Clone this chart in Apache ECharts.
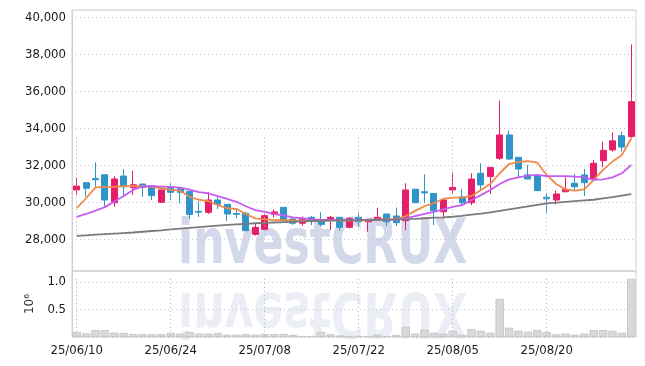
<!DOCTYPE html>
<html><head><meta charset="utf-8">
<script src="https://cdn.jsdelivr.net/npm/echarts@6/dist/echarts.min.js"></script>
<style>html,body{margin:0;padding:0;background:#fff}#c{width:645px;height:366px}</style>
</head><body><div id="c"></div>
<script>
const dates = ['25/06/10','25/06/11','25/06/12','25/06/13','25/06/16','25/06/17','25/06/18','25/06/19','25/06/20','25/06/23',
'25/06/24','25/06/25','25/06/26','25/06/27','25/06/30','25/07/01','25/07/02','25/07/03','25/07/04','25/07/07',
'25/07/08','25/07/09','25/07/10','25/07/11','25/07/14','25/07/15','25/07/16','25/07/17','25/07/18','25/07/21',
'25/07/22','25/07/23','25/07/24','25/07/25','25/07/28','25/07/29','25/07/30','25/07/31','25/08/01','25/08/04',
'25/08/05','25/08/06','25/08/07','25/08/08','25/08/11','25/08/12','25/08/13','25/08/14','25/08/18','25/08/19',
'25/08/20','25/08/21','25/08/22','25/08/25','25/08/26','25/08/27','25/08/28','25/08/29','25/09/01','25/09/02'];
const opens  = [30680,31070,31300,31500,29990,31430,30800,31000,30910,30010,30800,30770,30600,29520,29470,30135,29900,29400,29420,28280,
28550,29360,29740,29110,28880,29200,29050,29050,29200,28660,29200,28960,29050,29380,29270,29020,30720,30580,30490,29500,
30680,30300,29990,31580,31400,32390,33650,32440,31490,31450,30280,30135,30580,31040,31490,31250,32260,32840,33610,33560];
const closes = [30890,30770,31230,30135,31270,30850,30960,30820,30370,30680,30550,30550,29350,29480,30135,29900,29380,29360,28480,28660,
29290,29490,29050,28880,29110,29050,28820,29200,28660,29140,28960,29090,29200,28960,28910,30680,29990,30520,29560,30135,
30820,29990,31270,30950,31900,33650,32350,31810,31270,30640,30200,30460,30710,30850,31070,32120,32820,33330,33000,35450];
const lows   = [30400,30310,30850,29770,29770,30310,30400,30310,30135,30010,30135,29960,29100,29220,29380,29650,29000,29150,28480,28210,
28480,29200,29050,28780,28750,28780,28730,28510,28480,28600,28690,28420,29050,28730,28730,28510,29990,29990,28780,29140,
30490,29860,29860,30680,30460,32300,32300,31360,31270,30640,29450,29900,30580,30680,30350,31220,31900,32750,32750,33500];
const highs  = [31360,31100,32170,31520,31430,31800,31720,31000,30910,30680,31040,30770,30640,30060,30580,30310,29900,29650,29500,28910,
29380,29630,29740,29200,29250,29270,29470,29270,29200,29200,29470,29090,29720,29380,29720,31040,30720,31520,30490,30135,
31620,30720,31580,32120,31900,35500,33880,32440,32030,31450,30490,30640,31360,31540,31810,32300,33290,33790,33830,38540];
const maShort = [29690,30230,30820,30850,30850,30890,30890,30890,30850,30770,30680,30640,30310,30150,30080,29860,29690,29650,29380,29140,
29090,29050,29050,29030,29020,29020,29000,29050,29020,29030,29040,29040,29090,29090,29100,29270,29550,29800,29960,30200,
30260,30280,30350,30680,31000,31580,32080,32190,32240,32150,31490,31000,30710,30640,30710,31220,31760,32210,32570,33470];
const maMid = [29230,29380,29560,29750,30050,30350,30680,30870,30880,30860,30840,30800,30700,30560,30500,30350,30200,30040,29800,29590,
29500,29380,29300,29200,29150,29090,29070,29060,29050,29050,29050,29050,29050,29060,29080,29140,29270,29380,29500,29630,
29770,29860,30135,30400,30680,31000,31250,31360,31450,31490,31430,31430,31430,31400,31360,31220,31250,31360,31580,32030];
const maLong = [28200,28230,28260,28290,28320,28350,28380,28420,28460,28500,28550,28590,28630,28670,28710,28750,28790,28820,28850,28880,
28900,28920,28940,28960,28980,29000,29010,29020,29030,29040,29050,29060,29070,29080,29090,29100,29120,29150,29180,29200,
29230,29280,29340,29400,29470,29550,29630,29710,29790,29870,29950,29990,30030,30070,30110,30150,30220,30290,30370,30450];
const volumes = [0.092,0.067,0.128,0.128,0.080,0.075,0.056,0.050,0.050,0.050,0.075,0.063,0.092,0.063,0.063,0.075,0.043,0.043,0.056,0.043,
0.056,0.056,0.056,0.038,0.020,0.020,0.092,0.050,0.030,0.020,0.020,0.020,0.043,0.020,0.038,0.188,0.063,0.133,0.080,0.063,
0.115,0.043,0.146,0.115,0.080,0.693,0.170,0.115,0.097,0.128,0.092,0.050,0.063,0.043,0.063,0.128,0.128,0.115,0.080,1.060];
const gridIdx = dates.map((d, i) => i).filter(i => i % 10 === 0);

const candles = dates.map((d, i) => [opens[i], closes[i], lows[i], highs[i]]);
const FONT = '"DejaVu Sans Condensed", "DejaVu Sans", sans-serif';
const dotStyle = {type: [1, 3], color: '#c3c6d6', width: 1};
const vDot = {type: [1, 3], color: '#aeb2c8', width: 1};
const vLines = {silent: true, symbol: ['none', 'none'], animation: false, label: {show: false},
  lineStyle: vDot, emphasis: {disabled: true},
  data: gridIdx.map(i => [{xAxis: i, yAxis: 'min'}, {xAxis: i, yAxis: 'max'}])};

const chart = echarts.init(document.getElementById('c'), null, {renderer: 'canvas'});
chart.setOption({
  animation: false,
  backgroundColor: '#fff',
  graphic: [
    {type: 'text', x: 178, y: 278, scaleX: 0.78, z: 0, silent: true,
     style: {text: 'investCRUX', font: 'bold 63px ' + FONT, fill: 'rgba(168,178,214,0.5)', textVerticalAlign: 'bottom'}},
    {type: 'text', x: 178, y: 278, scaleX: 0.78, scaleY: -1, z: 0, silent: true,
     style: {text: 'investCRUX', font: 'bold 63px ' + FONT, fill: 'rgba(168,178,214,0.22)', textVerticalAlign: 'bottom'}}
  ],
  grid: [
    {left: 72, right: 9, top: 10, height: 261, show: true, borderColor: '#cfcfcf', borderWidth: 1},
    {left: 72, right: 9, top: 271, height: 66, show: true, borderColor: '#cfcfcf', borderWidth: 1}
  ],
  xAxis: [
    {type: 'category', gridIndex: 0, data: dates, boundaryGap: true,
     axisLine: {show: false}, axisTick: {show: false}, axisLabel: {show: false}, splitLine: {show: false}},
    {type: 'category', gridIndex: 1, data: dates, boundaryGap: true,
     axisLine: {show: false}, axisTick: {show: false},
     axisLabel: {interval: 9, color: '#1a1a1a', fontFamily: FONT, fontSize: 13, margin: 7},
     splitLine: {show: false}}
  ],
  yAxis: [
    {type: 'value', gridIndex: 0, min: 26300, max: 40400, splitNumber: 7, scale: true,
     axisLine: {show: true, lineStyle: {color: '#cfcfcf'}}, axisTick: {show: false},
     axisLabel: {color: '#1a1a1a', fontFamily: FONT, fontSize: 13, margin: 6, showMinLabel: false, showMaxLabel: false,
       formatter: v => v.toLocaleString('en-US')},
     splitLine: {show: true, lineStyle: dotStyle}},
    {type: 'value', gridIndex: 1, min: 0, max: 1.2, interval: 0.5,
     name: '10\u2076', nameLocation: 'middle', nameRotate: 90, nameGap: 36,
     nameTextStyle: {color: '#333', fontFamily: '"DejaVu Sans", sans-serif', fontSize: 12},
     axisLine: {show: true, lineStyle: {color: '#cfcfcf'}}, axisTick: {show: false},
     axisLabel: {color: '#1a1a1a', fontFamily: FONT, fontSize: 13, margin: 6, showMinLabel: false, showMaxLabel: false,
       formatter: v => v.toFixed(1)},
     splitLine: {show: true, lineStyle: dotStyle}}
  ],
  series: [
    {type: 'candlestick', xAxisIndex: 0, yAxisIndex: 0, data: candles, barWidth: '68%', z: 3,
     itemStyle: {color: '#e61e6a', color0: '#2f95c9', borderColor: '#e61e6a', borderColor0: '#2f95c9', borderWidth: 1},
     markLine: vLines},
    {type: 'line', xAxisIndex: 0, yAxisIndex: 0, data: maShort, symbol: 'none', z: 4,
     lineStyle: {color: '#ef8a4c', width: 1.8}},
    {type: 'line', xAxisIndex: 0, yAxisIndex: 0, data: maMid, symbol: 'none', z: 4,
     lineStyle: {color: '#c75cf0', width: 1.8}},
    {type: 'line', xAxisIndex: 0, yAxisIndex: 0, data: maLong, symbol: 'none', z: 4,
     lineStyle: {color: '#7b7b7b', width: 1.8}},
    {type: 'bar', xAxisIndex: 1, yAxisIndex: 1, data: volumes, barCategoryGap: '10%', z: 3,
     itemStyle: {color: '#d9d9d9', borderColor: '#c8c8c8', borderWidth: 1},
     markLine: vLines}
  ]
});
</script></body></html>
